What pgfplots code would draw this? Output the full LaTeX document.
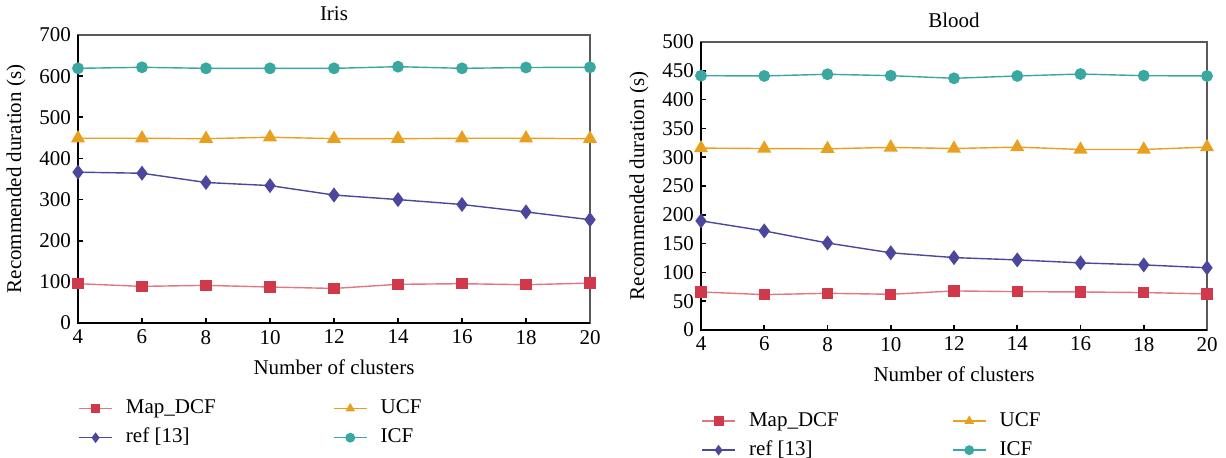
\documentclass[border=0pt]{standalone}
\usepackage{fontspec}
\setmainfont{Liberation Serif}
\usepackage{pgfplots}
\pgfplotsset{compat=1.18}
\definecolor{cRed}{HTML}{D0394B}
\definecolor{cRedL}{HTML}{E3777F}
\definecolor{cOra}{HTML}{E8A020}
\definecolor{cNav}{HTML}{4A479C}
\definecolor{cTeal}{HTML}{3AA8A0}
\pgfplotsset{
  myax/.style={
    scale only axis, clip=false,
    font=\fontsize{10.5}{12}\selectfont,
    /pgf/number format/assume math mode=true,
    xmin=4, xmax=20, xtick={4,6,...,20},
    ymin=0,
    tick align=inside, tick pos=left,
    major tick length=2.5pt,
    every tick/.style={black, line width=0.8pt},
    axis line style={draw=black!65, line width=0.6pt},
    xlabel={Number of clusters},
    ylabel={Recommended duration (s)},
    title style={yshift=-2.5pt},
    xlabel style={yshift=-1pt},
    legend columns=2,
    legend cell align=left,
    legend style={draw=none, fill=none, inner sep=0pt,
      font=\fontsize{10.5}{12}\selectfont,
      nodes={inner sep=0.6pt, text height=7.5pt, text depth=2.4pt},
      row sep=3.5pt,
      /tikz/every odd column/.append style={column sep=6pt}},
    legend image code/.code={\draw[mark repeat=2,mark phase=2,mark size=2.1pt] plot coordinates {(0pt,0pt) (8.25pt,0pt) (16.5pt,0pt)};},
  },
  sMap/.style={color=cRedL, line width=0.7pt, mark=square*, mark size=2.5pt, mark options={fill=cRed, draw=cRed, solid}},
  sUCF/.style={color=cOra, line width=0.7pt, mark=triangle*, mark size=3.4pt, mark options={fill=cOra, draw=cOra, solid}},
  sRef/.style={color=cNav, line width=0.7pt, mark=diamond*, mark size=3.2pt, mark options={fill=cNav, draw=cNav, solid}},
  sICF/.style={color=cTeal, line width=0.7pt, mark=*, mark size=2.6pt, mark options={fill=cTeal, draw=cTeal, solid}},
}
\begin{document}
\begin{tikzpicture}
\useasboundingbox (0,0) rectangle (613pt,229pt);
% ---------------- Iris ----------------
\begin{axis}[myax,
  at={(39pt,67.5pt)}, anchor=south west,
  width=256pt, height=144pt,
  ymax=700, ytick={0,100,...,700},
  title={Iris},
  legend style={at={(0,-0.257)}, anchor=north west,
    /tikz/every even column/.append style={column sep=58pt}},
]
\addplot[sMap] coordinates {(4,95.5) (6,89) (8,91.5) (10,87.4) (12,84) (14,94) (16,95.5) (18,93) (20,97)};
\addlegendentry{Map\_DCF}
\addplot[sUCF] coordinates {(4,449) (6,449) (8,448) (10,451.5) (12,448) (14,448) (16,449) (18,449) (20,448)};
\addlegendentry{UCF}
\addplot[sRef] coordinates {(4,366.6) (6,364) (8,341.5) (10,334) (12,311) (14,300) (16,288) (18,270) (20,251)};
\addlegendentry{ref [13]}
\addplot[sICF] coordinates {(4,619) (6,621.5) (8,619) (10,619) (12,619) (14,623) (16,619) (18,621) (20,621.5)};
\addlegendentry{ICF}
\draw[black, line width=1pt] (rel axis cs:0,1) -- (rel axis cs:0,0) -- (rel axis cs:1,0);
\end{axis}
% ---------------- Blood ----------------
\begin{axis}[myax,
  at={(350.5pt,64pt)}, anchor=south west,
  width=253pt, height=144pt,
  ymax=500, ytick={0,50,...,500},
  title={Blood},
  legend style={at={(0,-0.276)}, anchor=north west,
    /tikz/every even column/.append style={column sep=56pt}},
]
\addplot[sMap] coordinates {(4,66) (6,61.4) (8,63.7) (10,62) (12,67.8) (14,66.6) (16,66) (18,65) (20,62.6)};
\addlegendentry{Map\_DCF}
\addplot[sUCF] coordinates {(4,315.8) (6,315) (8,314.6) (10,317) (12,315) (14,317.5) (16,313.4) (18,313.4) (20,317.5)};
\addlegendentry{UCF}
\addplot[sRef] coordinates {(4,189.5) (6,172) (8,151) (10,134) (12,125.7) (14,121.7) (16,116.5) (18,113) (20,108)};
\addlegendentry{ref [13]}
\addplot[sICF] coordinates {(4,441.5) (6,441) (8,444) (10,441.5) (12,437) (14,441) (16,444.4) (18,441.5) (20,441)};
\addlegendentry{ICF}
\draw[black, line width=1pt] (rel axis cs:0,1) -- (rel axis cs:0,0) -- (rel axis cs:1,0);
\end{axis}
\end{tikzpicture}
\end{document}
